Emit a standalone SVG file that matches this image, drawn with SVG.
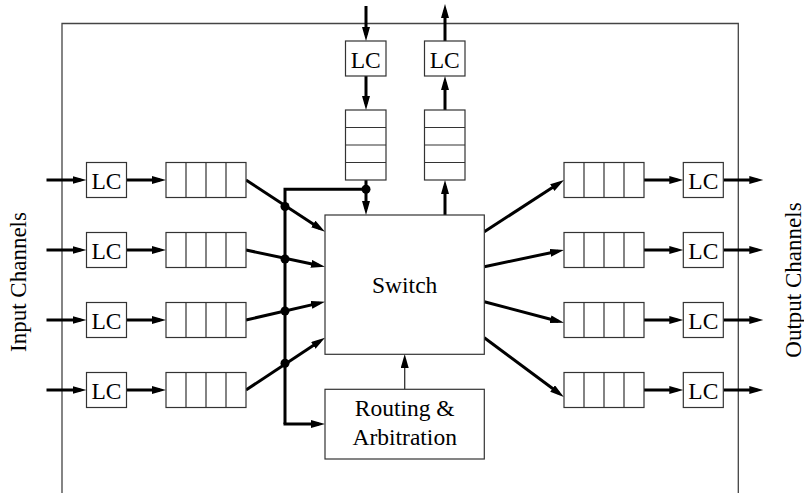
<svg xmlns="http://www.w3.org/2000/svg" width="804" height="493" viewBox="0 0 804 493">
<style>
.box{fill:#fff;stroke:#333;stroke-width:1.2}
.cell{fill:none;stroke:#333;stroke-width:1.2}
.frame{fill:none;stroke:#444;stroke-width:1.3}
.t{font-family:"Liberation Serif","Times New Roman",serif;font-size:23.5px;fill:#000;text-anchor:middle}
.side{font-size:23px}
.w{fill:none;stroke:#000;stroke-width:3}
.wa{fill:none;stroke:#000;stroke-width:3;marker-end:url(#ah)}
.thin{fill:none;stroke:#333;stroke-width:1.3;marker-end:url(#ah)}
.dot{fill:#000}
</style>
<defs>
<marker id="ah" markerUnits="userSpaceOnUse" markerWidth="16" markerHeight="10" refX="8" refY="4" orient="auto">
<path d="M0,0 L14,4 L0,8 Z" fill="#000"/>
</marker>
</defs>
<rect width="804" height="493" fill="#fff"/>
<path class="frame" d="M62,493 V23.5 H738.3 V493"/>
<text class="t side" transform="translate(25.5,282) rotate(-90)">Input Channels</text>
<text class="t side" transform="translate(800.5,280) rotate(-90)">Output Channels</text>

<g id="connectors">
<line class="wa" x1="46.5" y1="180" x2="80.5" y2="180"/>
<line class="wa" x1="46.5" y1="250" x2="80.5" y2="250"/>
<line class="wa" x1="46.5" y1="320" x2="80.5" y2="320"/>
<line class="wa" x1="46.5" y1="390" x2="80.5" y2="390"/>
<line class="wa" x1="126.5" y1="180" x2="160" y2="180"/>
<line class="wa" x1="126.5" y1="250" x2="160" y2="250"/>
<line class="wa" x1="126.5" y1="320" x2="160" y2="320"/>
<line class="wa" x1="126.5" y1="390" x2="160" y2="390"/>
<line class="wa" x1="246" y1="180" x2="320" y2="228.4"/>
<line class="wa" x1="246" y1="250" x2="319.1" y2="265.5"/>
<line class="wa" x1="246" y1="320" x2="319.2" y2="303.1"/>
<line class="wa" x1="246" y1="390" x2="320" y2="341"/>
<path class="w" d="M366,189.3 H285 V424"/>
<line class="wa" x1="283.5" y1="424" x2="319" y2="424"/>
<circle class="dot" cx="285" cy="206.5" r="4.5"/>
<circle class="dot" cx="285" cy="259" r="4.5"/>
<circle class="dot" cx="285" cy="311" r="4.5"/>
<circle class="dot" cx="285" cy="363.3" r="4.5"/>
<circle class="dot" cx="366" cy="189.3" r="4.5"/>
<line class="wa" x1="366" y1="6" x2="366" y2="35"/>
<line class="wa" x1="366" y1="76" x2="366" y2="104"/>
<line class="wa" x1="366" y1="180" x2="366" y2="209"/>
<line class="wa" x1="445" y1="215" x2="445" y2="186"/>
<line class="wa" x1="445" y1="110" x2="445" y2="82"/>
<line class="wa" x1="445" y1="41" x2="445" y2="10"/>
<line class="thin" x1="404.7" y1="389.3" x2="404.7" y2="360"/>
<line class="wa" x1="484.3" y1="231.7" x2="559" y2="183.3"/>
<line class="wa" x1="484.3" y1="266.7" x2="558.1" y2="251.2"/>
<line class="wa" x1="484.3" y1="301.7" x2="558.2" y2="321.3"/>
<line class="wa" x1="484.3" y1="337.7" x2="559" y2="393.3"/>
<line class="wa" x1="644" y1="180" x2="677.3" y2="180"/>
<line class="wa" x1="644" y1="250" x2="677.3" y2="250"/>
<line class="wa" x1="644" y1="320" x2="677.3" y2="320"/>
<line class="wa" x1="644" y1="390" x2="677.3" y2="390"/>
<line class="wa" x1="723.3" y1="180" x2="757.3" y2="180"/>
<line class="wa" x1="723.3" y1="250" x2="757.3" y2="250"/>
<line class="wa" x1="723.3" y1="320" x2="757.3" y2="320"/>
<line class="wa" x1="723.3" y1="390" x2="757.3" y2="390"/>
</g>

<g id="lc-in-1"><rect class="box" x="86.5" y="162.5" width="40" height="35"/><text class="t" x="106.5" y="189.3">LC</text></g>
<g id="lc-in-2"><rect class="box" x="86.5" y="232.5" width="40" height="35"/><text class="t" x="106.5" y="259.3">LC</text></g>
<g id="lc-in-3"><rect class="box" x="86.5" y="302.5" width="40" height="35"/><text class="t" x="106.5" y="329.3">LC</text></g>
<g id="lc-in-4"><rect class="box" x="86.5" y="372.5" width="40" height="35"/><text class="t" x="106.5" y="399.3">LC</text></g>

<g id="q-in-1"><rect class="box" x="166" y="162.5" width="80" height="35"/><path class="cell" d="M186,162.5V197.5M206,162.5V197.5M226,162.5V197.5"/></g>
<g id="q-in-2"><rect class="box" x="166" y="232.5" width="80" height="35"/><path class="cell" d="M186,232.5V267.5M206,232.5V267.5M226,232.5V267.5"/></g>
<g id="q-in-3"><rect class="box" x="166" y="302.5" width="80" height="35"/><path class="cell" d="M186,302.5V337.5M206,302.5V337.5M226,302.5V337.5"/></g>
<g id="q-in-4"><rect class="box" x="166" y="372.5" width="80" height="35"/><path class="cell" d="M186,372.5V407.5M206,372.5V407.5M226,372.5V407.5"/></g>

<g id="lc-top-in"><rect class="box" x="345.5" y="41" width="40.5" height="35"/><text class="t" x="365.75" y="67.8">LC</text></g>
<g id="q-top-in"><rect class="box" x="345.5" y="110" width="40.5" height="70"/><path class="cell" d="M345.5,127.5H386M345.5,145H386M345.5,162.5H386"/></g>
<g id="lc-top-out"><rect class="box" x="424.5" y="41" width="40.5" height="35"/><text class="t" x="444.75" y="67.8">LC</text></g>
<g id="q-top-out"><rect class="box" x="424.5" y="110" width="40.5" height="70"/><path class="cell" d="M424.5,127.5H465M424.5,145H465M424.5,162.5H465"/></g>

<g id="switch"><rect class="box" x="325" y="215" width="159.3" height="139.3"/><text class="t" x="404.7" y="293.3">Switch</text></g>
<g id="routing"><rect class="box" x="325" y="389.3" width="159.3" height="69.7"/><text class="t" x="404.7" y="416">Routing &amp;</text><text class="t" x="404.7" y="445">Arbitration</text></g>

<g id="q-out-1"><rect class="box" x="564" y="162.5" width="80" height="35"/><path class="cell" d="M584,162.5V197.5M604,162.5V197.5M624,162.5V197.5"/></g>
<g id="q-out-2"><rect class="box" x="564" y="232.5" width="80" height="35"/><path class="cell" d="M584,232.5V267.5M604,232.5V267.5M624,232.5V267.5"/></g>
<g id="q-out-3"><rect class="box" x="564" y="302.5" width="80" height="35"/><path class="cell" d="M584,302.5V337.5M604,302.5V337.5M624,302.5V337.5"/></g>
<g id="q-out-4"><rect class="box" x="564" y="372.5" width="80" height="35"/><path class="cell" d="M584,372.5V407.5M604,372.5V407.5M624,372.5V407.5"/></g>

<g id="lc-out-1"><rect class="box" x="683.3" y="162.5" width="40" height="35"/><text class="t" x="703.3" y="189.3">LC</text></g>
<g id="lc-out-2"><rect class="box" x="683.3" y="232.5" width="40" height="35"/><text class="t" x="703.3" y="259.3">LC</text></g>
<g id="lc-out-3"><rect class="box" x="683.3" y="302.5" width="40" height="35"/><text class="t" x="703.3" y="329.3">LC</text></g>
<g id="lc-out-4"><rect class="box" x="683.3" y="372.5" width="40" height="35"/><text class="t" x="703.3" y="399.3">LC</text></g>
</svg>
